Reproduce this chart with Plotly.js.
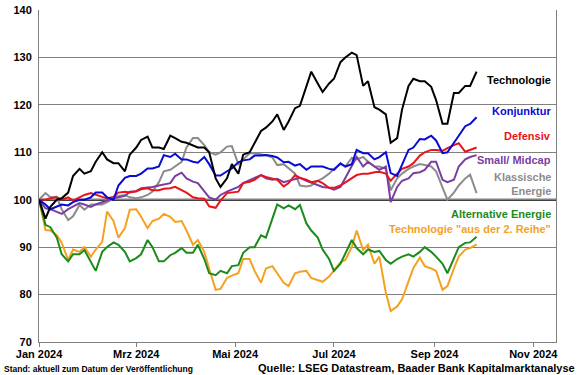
<!DOCTYPE html>
<html><head><meta charset="utf-8">
<script src="https://cdn.plot.ly/plotly-3.0.1.min.js"></script>
<style>html,body{margin:0;padding:0;background:#fff}#chart{width:580px;height:375px}</style>
</head><body><div id="chart"></div>
<script>
const dates = [
"2024-01-01","2024-01-05","2024-01-08","2024-01-12","2024-01-15","2024-01-19","2024-01-22","2024-01-26","2024-01-29","2024-02-02",
"2024-02-05","2024-02-09","2024-02-12","2024-02-16","2024-02-19","2024-02-23","2024-02-26","2024-03-01","2024-03-04","2024-03-08",
"2024-03-11","2024-03-15","2024-03-18","2024-03-22","2024-03-25","2024-03-29","2024-04-01","2024-04-05","2024-04-08","2024-04-12",
"2024-04-15","2024-04-19","2024-04-22","2024-04-26","2024-04-29","2024-05-03","2024-05-06","2024-05-10","2024-05-13","2024-05-17",
"2024-05-20","2024-05-24","2024-05-27","2024-05-31","2024-06-03","2024-06-07","2024-06-10","2024-06-14","2024-06-17","2024-06-21",
"2024-06-24","2024-06-28","2024-07-01","2024-07-05","2024-07-08","2024-07-12","2024-07-15","2024-07-19","2024-07-22","2024-07-26",
"2024-07-29","2024-08-02","2024-08-05","2024-08-09","2024-08-12","2024-08-16","2024-08-19","2024-08-23","2024-08-26","2024-08-30",
"2024-09-02","2024-09-06","2024-09-09","2024-09-13","2024-09-16","2024-09-20","2024-09-23","2024-09-27"];

const technologie = [
100,96,98.5,100,100.3,101.5,105,106.5,105.5,106,
108,110,108.5,107.7,107.7,106,109.5,111,112.6,113.3,
111,111,110.7,113.5,113,112.2,112,111.5,111,111,
110,104.5,102.7,104.5,107.5,105.5,109.5,110,112,114.5,
115.2,116.5,118,114.7,116.5,119.3,119.8,124,127,124.5,
122.7,124.5,125.5,129,130,131,130.5,124,125,119.5,
119,118,112,113,119,124,125.5,125,125,123.8,
121,116,116,122.5,122.5,124,124,127];

const konjunktur = [
100,99,98,98.5,99,98.8,99.5,100,100,100.5,
101.5,101.5,100.5,100,103,104.6,105,105,105.5,106.6,
106.6,107,109.4,109,109.7,108.5,108.5,108,107.8,109,
107.5,105.1,105.1,106,106.6,107.9,108.3,108.5,109.3,109.3,
109.4,109.2,108.9,107.9,108,107.2,107.5,106.3,107,107,
107,106.5,106.3,107.7,107,107.5,110.5,109.8,109.8,108.5,
109,110,105.6,105,107.5,110.5,111,112.8,112.7,113.5,
112.5,109.8,110,111.9,113.5,115.5,116,117.4];

const defensiv = [
100,100,100.3,100.5,100,100.5,99.8,100.5,101,101.4,
101,100.6,100.3,100.6,101.5,101.7,101.5,101.8,102.2,102.4,
102,102,102.3,102.4,102.7,102,101.5,100.5,100.3,100.2,
98.6,98.3,99.8,101.4,101.5,101.7,103.5,103.8,104.2,105.2,
104.8,104.4,104.2,102.8,103.5,105.2,104.6,104.2,103.7,104,
103.5,102.5,102.5,103,103.7,104.5,105.2,105.5,105.5,105.8,
105.9,105.5,104,105.5,106.5,107,107.7,109.3,110,110.5,
110.5,110.3,110.9,111.5,111.9,110.1,110.5,111];

const smallMidcap = [
100,98.2,98,97.5,97,98,98.5,99.3,99,98.5,
99,99.5,99.8,100.3,100.5,100.8,101.7,101.8,102.4,102.5,
102.7,103,103.2,103.5,105,105.7,104.5,103.8,103.5,101.7,
100.5,100,101,101.7,102.2,102.7,103.5,104.2,104.6,105.2,
104.5,104.2,104.4,103.7,104,104.3,104.6,104,103.6,103.2,
102.7,102.5,102.1,102.7,104.5,107,109,107,108,107,
106.3,107,99.5,102.7,104,104.5,105.6,105.8,106.3,108,
108,104.2,103.7,104.2,107,108.5,109,109.4];

const klassischeEnergie = [
100,101.4,100.5,100.6,98,95.7,96.5,98.9,97.9,99,
99,99,99.5,100.3,100.8,101,100.5,100.3,100.5,101,
101.7,103.7,106,106.3,107,108,111,113,113,111.5,
110,109.5,110,111.2,111.3,107.5,108.5,109.8,109.8,109.6,
109.4,108.9,107.3,107.5,106.6,105.5,103,102.8,103,104,
104.5,105.5,106.5,107.5,107,108.8,108.5,109,108,107,
107,106.5,102,104.5,105.5,106.5,107,107.5,107.3,107,
106,102.5,100,101.5,103,104.5,105.3,101.4];

const alternativeEnergie = [
100,94.7,94.2,92,88.5,87,88.5,88.5,89.4,87,
85,89,90,91,90.5,89,87,87.7,88.5,91.5,
90,87,87,88.3,88.8,89.8,88.8,88.8,90.5,87.5,
84.5,84.1,85,84.5,86,86.2,88.8,90,90,92.5,
92,96,99,98.2,98.8,98,98.9,95,93.5,92,
89.5,87.5,85,86.5,88.5,91.5,89.8,88.5,89.5,89,
89.2,87.3,86.5,87.5,88,88.5,88,89,90,89,
88,86.5,84.5,87.7,90,90.9,91,92.2];

const technologie2Reihe = [
100,93.6,93.5,92.5,90.9,87.3,89.5,89,90,88,
89.5,91.1,97.5,95.5,92,94,97.9,98,96.4,94,
95.5,96,97,96.4,95.3,95.5,93.5,90.5,91.5,89,
85.5,81,81.2,83.5,84,84.5,87.5,87.5,85,82.5,
85.5,86,84.5,82.5,81.8,84.5,84.8,85,83.5,83,
82.7,83.8,85,86.8,87.3,90,93.5,89.4,90.5,86.5,
88,80.4,76.5,77.5,79,83,85.6,87.8,86,85.5,
85,81,81.8,85.5,88,89.5,89.8,90.6];

const seriesNames = ["Technologie \"aus der 2. Reihe\"","Alternative Energie","Klassische Energie","Small/ Midcap","Defensiv","Konjunktur","Technologie"];
const seriesValues = [technologie2Reihe, alternativeEnergie, klassischeEnergie, smallMidcap, defensiv, konjunktur, technologie];
const seriesColors = ["#F5A11F","#1C8A1C","#8C8C8C","#7A3DA3","#E8141A","#0A0AD6","#000000"];

const labelTexts = ["Technologie","Konjunktur","Defensiv","Small/ Midcap","Klassische<br>Energie","Alternative Energie","Technologie \"aus der 2. Reihe\""];
const labelYs = [125.2,118.7,113.4,108.4,103.4,97.0,93.8];
const labelColors = ["#000000","#0A0AD6","#E8141A","#7A3DA3","#8C8C8C","#1C8A1C","#F5A11F"];

const xTickVals = ["2024-01-01","2024-03-01","2024-05-01","2024-07-01","2024-09-01","2024-11-01"];
const xTickText = ["Jan 2024","Mrz 2024","Mai 2024","Jul 2024","Sep 2024","Nov 2024"];
const yTickVals = [70,80,90,100,110,120,130,140];

const FONT = "Arial, 'Liberation Sans', sans-serif";

const traces = seriesNames.map((n,i)=>({
  type:"scatter", mode:"lines", name:n, x:dates, y:seriesValues[i],
  line:{color:seriesColors[i], width:2}, hoverinfo:"skip"
}));

const annotations = labelTexts.map((t,i)=>({
  text:"<b>"+t+"</b>", xref:"paper", yref:"y", x:0.994, y:labelYs[i],
  xanchor:"right", yanchor:"middle", align:"right", showarrow:false,
  font:{family:FONT, size:11, color:labelColors[i]}
}));
annotations.push({
  text:"<b>Stand: aktuell zum Datum der Veröffentlichung</b>", xref:"paper", yref:"paper",
  x:-0.0716, y:-0.081, xanchor:"left", yanchor:"middle", showarrow:false,
  font:{family:"'Liberation Sans Narrow', 'Arial Narrow', Arial, sans-serif", size:8.5, color:"#000"}
});
annotations.push({
  text:"<b>Quelle: LSEG Datastream, Baader Bank Kapitalmarktanalyse</b>", xref:"paper", yref:"paper",
  x:1.0406, y:-0.078, xanchor:"right", yanchor:"middle", showarrow:false,
  font:{family:FONT, size:11, color:"#000"}
});

const layout = {
  width:580, height:375,
  margin:{l:39, r:24, t:10, b:33},
  paper_bgcolor:"#fff", plot_bgcolor:"#fff",
  showlegend:false,
  font:{family:FONT, color:"#000"},
  xaxis:{
    type:"date", range:["2024-01-01","2024-11-15"],
    tickvals:xTickVals, ticktext:xTickText,
    tickfont:{family:FONT, size:11, color:"#000", weight:"bold"},
    showgrid:false, zeroline:false,
    showline:true, linecolor:"#808080", linewidth:1, mirror:false,
    ticks:"outside", ticklen:4, tickcolor:"#808080", ticklabelstandoff:-2
  },
  yaxis:{
    range:[70,140], tickvals:yTickVals,
    tickfont:{family:FONT, size:11, color:"#000", weight:"bold"},
    showgrid:true, gridcolor:"#808080", gridwidth:1, zeroline:false,
    showline:true, linecolor:"#808080", linewidth:1, mirror:true,
    ticks:"", ticklabelstandoff:4
  },
  shapes:[{type:"line", xref:"paper", yref:"y", x0:0, x1:1, y0:100, y1:100,
    line:{color:"#000", width:2}, layer:"below"}],
  annotations:annotations
};

Plotly.newPlot("chart", traces, layout, {staticPlot:true, displayModeBar:false});
</script></body></html>
